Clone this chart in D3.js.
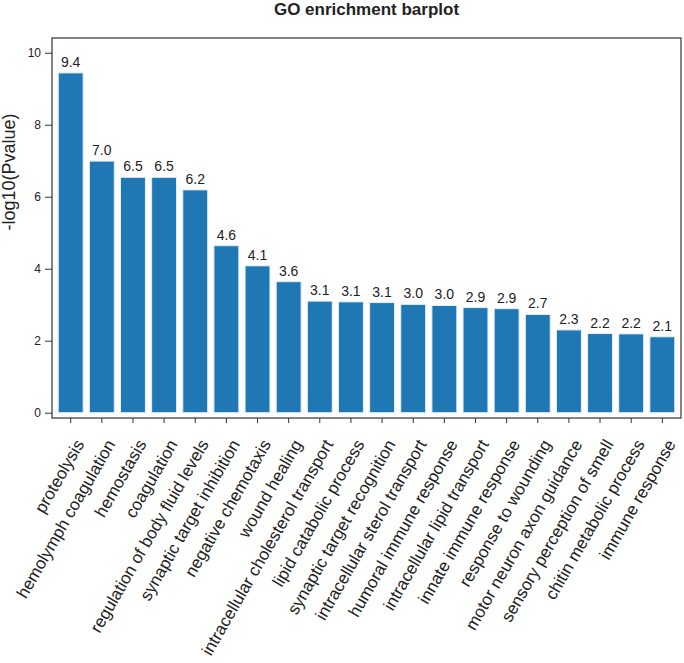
<!DOCTYPE html>
<html>
<head>
<meta charset="utf-8">
<script src="https://cdn.jsdelivr.net/npm/d3@7"></script>
<style>
  body { margin: 0; background: #fff; }
  svg text { font-family: "Liberation Sans", Arial, sans-serif; fill: #222; }
</style>
</head>
<body>
<div id="frame1"></div>
<script>
// GO enrichment barplot

const terms = ["proteolysis", "hemolymph coagulation", "hemostasis", "coagulation",
  "regulation of body fluid levels", "synaptic target inhibition", "negative chemotaxis",
  "wound healing", "intracellular cholesterol transport", "lipid catabolic process",
  "synaptic target recognition", "intracellular sterol transport", "humoral immune response",
  "intracellular lipid transport", "innate immune response", "response to wounding",
  "motor neuron axon guidance", "sensory perception of smell", "chitin metabolic process",
  "immune response"];
const values = [9.44, 6.99, 6.54, 6.54, 6.19, 4.64, 4.08, 3.64, 3.10, 3.08,
  3.06, 3.01, 2.98, 2.92, 2.89, 2.73, 2.30, 2.20, 2.19, 2.11];
const yTicks = [0, 2, 4, 6, 8, 10];

const FRAME_WIDTH = 684;
const FRAME_HEIGHT = 663;
const PLOT = {left: 52, right: 681, top: 38, bottom: 418};

const data = terms.map((t, i) => ({term: t, value: values[i]}));

const svg = d3.select("#frame1")
  .append("svg")
    .attr("width", FRAME_WIDTH)
    .attr("height", FRAME_HEIGHT);

const X_SCALE = d3.scaleBand()
  .domain(terms)
  .range([PLOT.left, PLOT.right])
  .paddingInner(0.2)
  .paddingOuter(0.2);

const Y_SCALE = d3.scaleLinear()
  .domain([-0.147, 10.41])
  .range([PLOT.bottom, PLOT.top]);

// bars
svg.selectAll(".bar")
  .data(data)
  .enter()
  .append("rect")
    .attr("class", "bar")
    .attr("x", d => X_SCALE(d.term))
    .attr("width", X_SCALE.bandwidth())
    .attr("y", d => Y_SCALE(d.value))
    .attr("height", d => Y_SCALE(0) - Y_SCALE(d.value))
    .attr("fill", "#1f77b4")
    .attr("stroke", "#e3f1fb")
    .attr("stroke-width", 1);

// value labels
svg.selectAll(".val")
  .data(data)
  .enter()
  .append("text")
    .attr("class", "val")
    .attr("x", d => X_SCALE(d.term) + X_SCALE.bandwidth() / 2)
    .attr("y", d => Y_SCALE(d.value) - 6)
    .attr("text-anchor", "middle")
    .attr("font-size", "14px")
    .text(d => d.value.toFixed(1));

// frame
svg.append("rect")
  .attr("x", PLOT.left)
  .attr("y", PLOT.top)
  .attr("width", PLOT.right - PLOT.left)
  .attr("height", PLOT.bottom - PLOT.top)
  .attr("fill", "none")
  .attr("stroke", "#333")
  .attr("stroke-width", 1.2);

// y axis
const yAxis = svg.append("g")
  .attr("transform", "translate(" + PLOT.left + ",0)")
  .call(d3.axisLeft(Y_SCALE).tickValues(yTicks).tickSize(7).tickPadding(4));
yAxis.select(".domain").remove();
yAxis.selectAll("line").attr("stroke", "#333");
yAxis.selectAll("text").attr("font-size", "12px").attr("fill", "#222");

// x axis
const xAxis = svg.append("g")
  .attr("transform", "translate(0," + PLOT.bottom + ")")
  .call(d3.axisBottom(X_SCALE).tickSize(5).tickFormat(""));
xAxis.select(".domain").remove();
xAxis.selectAll("line").attr("stroke", "#333");

svg.selectAll(".xlab")
  .data(terms)
  .enter()
  .append("text")
    .attr("class", "xlab")
    .attr("transform", d => "translate(" + (X_SCALE(d) + X_SCALE.bandwidth() / 2 + 14) + ",444) rotate(-60)")
    .attr("text-anchor", "end")
    .attr("font-size", "17px")
    .text(d => d);

// y label
svg.append("text")
  .attr("transform", "translate(15,172) rotate(-90)")
  .attr("text-anchor", "middle")
  .attr("font-size", "18px")
  .text("-log10(Pvalue)");

// title
svg.append("text")
  .attr("x", (PLOT.left + PLOT.right) / 2)
  .attr("y", 15)
  .attr("text-anchor", "middle")
  .attr("font-size", "17px")
  .attr("font-weight", "bold")
  .text("GO enrichment barplot");
</script>
</body>
</html>
